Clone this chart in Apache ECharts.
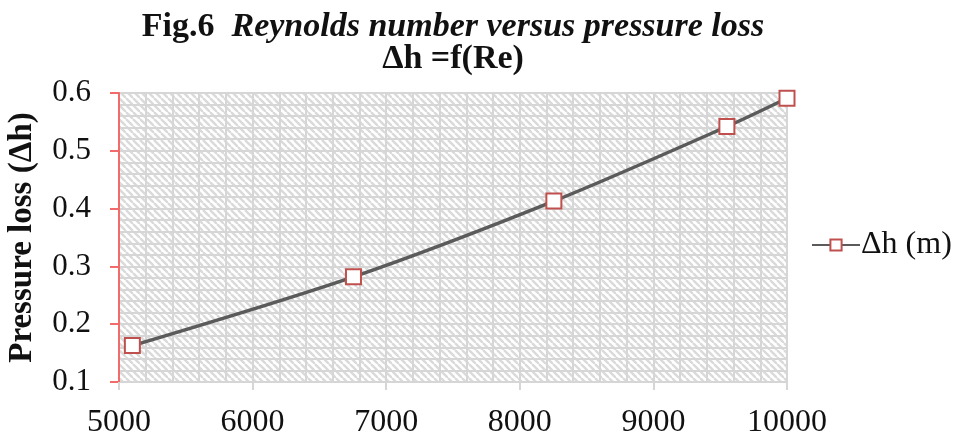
<!DOCTYPE html>
<html>
<head>
<meta charset="utf-8">
<script src="https://cdn.jsdelivr.net/npm/echarts@6/dist/echarts.min.js"></script>
<style>
  html, body { margin: 0; padding: 0; background: #fff; }
  #chart { width: 958px; height: 439px; }
</style>
</head>
<body>
<div id="chart"></div>
<script>
// Reynolds number (x) and pressure loss (y)
const reynolds = [5100, 6755, 8255, 9550, 10000];
const pressureLoss = [0.163, 0.282, 0.413, 0.542, 0.591];
const seriesName = 'Δh (m)';
const xTicks = [5000, 10000, 1000];
const yTicks = [0.1, 0.6, 0.1];

// diagonal hatch fill for plot area
function hatch() {
  const s = 7;
  const c = document.createElement('canvas');
  c.width = s;
  c.height = s;
  const ctx = c.getContext('2d');
  ctx.fillStyle = '#fff';
  ctx.fillRect(0, 0, s, s);
  ctx.strokeStyle = '#dadada';
  ctx.lineWidth = 2.4;
  for (let o = -s; o <= s; o += s) {
    ctx.beginPath();
    ctx.moveTo(o, 0);
    ctx.lineTo(o + s, s);
    ctx.stroke();
  }
  return c;
}

const chart = echarts.init(document.getElementById('chart'));
const serif = 'Liberation Serif, Times New Roman, serif';
const gridLine = { color: '#d6d6d6', width: 2 };

chart.setOption({
  backgroundColor: '#fff',
  animation: false,
  title: {
    left: 448,
    top: 6,
    textAlign: 'center',
    text: '{a|Fig.6  }{b|Reynolds number versus pressure loss}\n{a|Δh =f(Re)}',
    textStyle: {
      rich: {
        a: { fontFamily: serif, fontSize: 34, fontWeight: 'bold', color: '#111', lineHeight: 32 },
        b: { fontFamily: serif, fontSize: 34, fontWeight: 'bold', fontStyle: 'italic', color: '#111', lineHeight: 32 }
      }
    }
  },
  grid: {
    left: 119,
    right: 171,
    top: 93,
    bottom: 57,
    outerBoundsMode: 'none',
    containLabel: false,
    show: true,
    borderWidth: 0,
    backgroundColor: { image: hatch(), repeat: 'repeat' }
  },
  legend: {
    left: 806,
    top: 224,
    itemWidth: 48,
    itemHeight: 14,
    itemGap: 4,
    data: [seriesName],
    textStyle: { fontFamily: serif, fontSize: 32, color: '#111', padding: [0, 0, 0, -4] }
  },
  xAxis: {
    type: 'value',
    min: xTicks[0],
    max: xTicks[1],
    interval: xTicks[2],
    axisLine: { show: false },
    axisTick: { show: true, length: 8, lineStyle: { color: '#d6d6d6', width: 2 } },
    axisLabel: { margin: 25, fontFamily: serif, fontSize: 32, color: '#111', formatter: v => String(v) },
    splitLine: { show: true, lineStyle: gridLine },
    minorTick: { show: false, splitNumber: 5 },
    minorSplitLine: { show: true, lineStyle: gridLine }
  },
  yAxis: {
    type: 'value',
    min: yTicks[0],
    max: yTicks[1],
    interval: yTicks[2],
    name: 'Pressure loss (Δh)',
    nameLocation: 'middle',
    nameGap: 80,
    nameTextStyle: { fontFamily: serif, fontSize: 33, fontWeight: 'bold', color: '#111' },
    axisLine: { show: true, lineStyle: { color: '#f26b6b', width: 2 } },
    axisTick: { show: true, length: 9, lineStyle: { color: '#f26b6b', width: 2 } },
    axisLabel: {
      margin: 28,
      fontFamily: serif,
      fontSize: 31,
      color: '#111',
      formatter: v => v.toFixed(1)
    },
    splitLine: { show: true, lineStyle: gridLine },
    minorTick: { show: false, splitNumber: 5 },
    minorSplitLine: { show: true, lineStyle: gridLine }
  },
  series: [{
    name: seriesName,
    type: 'line',
    smooth: 0.3,
    data: reynolds.map((r, i) => [r, pressureLoss[i]]),
    symbol: 'rect',
    symbolSize: 15,
    lineStyle: { color: '#5b5b5b', width: 3.5 },
    itemStyle: { color: '#fff', borderColor: '#c0504d', borderWidth: 2 }
  }]
});
</script>
</body>
</html>
